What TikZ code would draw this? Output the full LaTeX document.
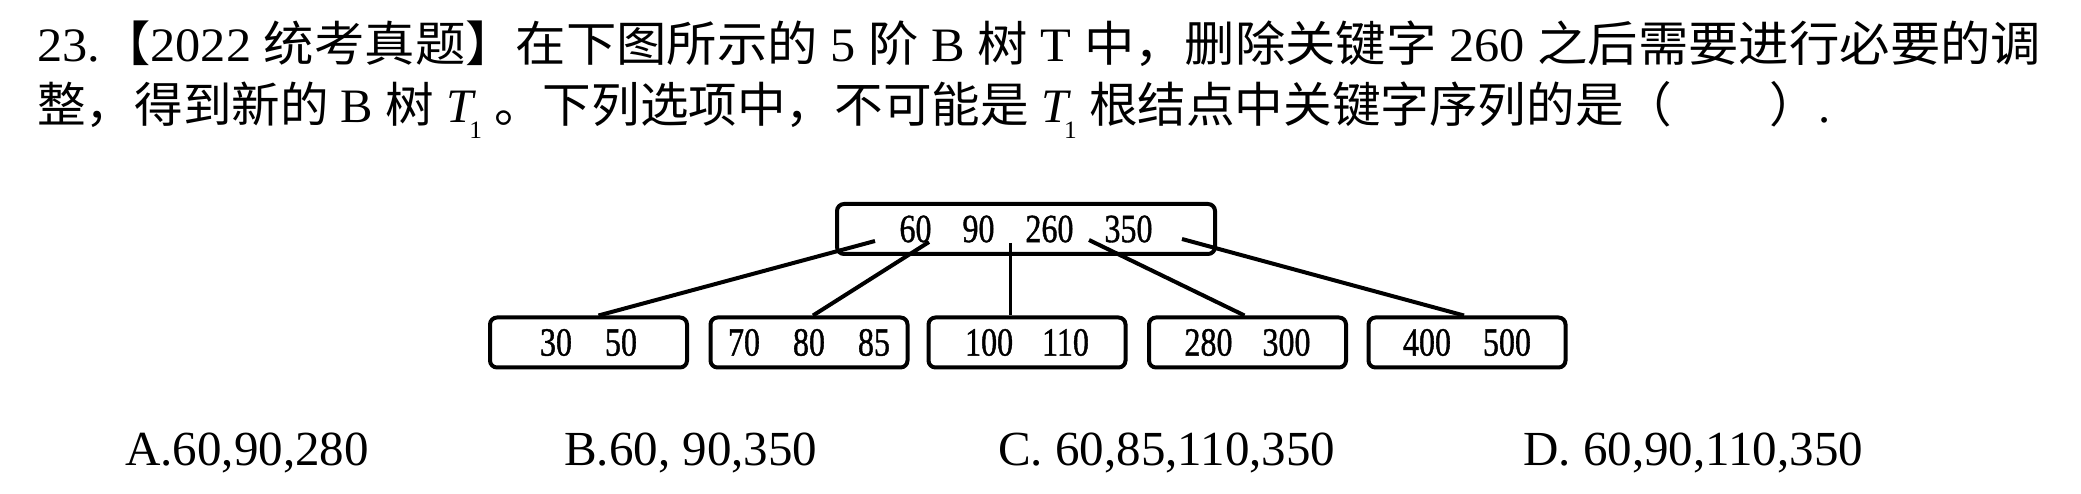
\documentclass[tikz,border=0pt]{standalone}
\usepackage{fontspec}
\usepackage{graphicx}
\setmainfont{Liberation Serif}
\newfontfamily\cjk{Noto Sans CJK SC}
\newfontfamily\treefont[FakeStretch=0.8,FakeBold=1]{Liberation Serif}
\newcommand{\zh}[1]{{\cjk #1}}
\newcommand{\Tone}{{\itshape T}\kern-0.08em\raisebox{-0.32em}{\fontsize{25}{25}\selectfont 1}}
\begin{document}
\begin{tikzpicture}[x=1pt,y=-1pt,
  keybox/.style={draw, line width=4pt, rounded corners=7pt, minimum height=50pt,
    inner sep=0pt, font=\treefont\fontsize{40}{40}\selectfont},
  leafbox/.style={keybox, minimum width=197pt},
  link/.style={line width=4pt},
  qtext/.style={anchor=base west, inner sep=0pt, font=\fontsize{48}{48}\selectfont},
  opt/.style={anchor=base west, inner sep=0pt, font=\fontsize{49}{49}\selectfont}]
\useasboundingbox (0,0) rectangle (2081,494);

% question text
\node[qtext] (q1) at (37,62) {\resizebox{2004pt}{\height}{23.\zh{【}2022 \zh{统考真题】在下图所示的} 5 \zh{阶} B \zh{树} T \zh{中，删除关键字} 260 \zh{之后需要进行必要的调}}};
\node[qtext] (q2) at (37,123) {\resizebox{1793pt}{\height}{\zh{整，得到新的} B \zh{树} \Tone\ \zh{。下列选项中，不可能是} \Tone\ \zh{根结点中关键字序列的是（　　）}.}};

% tree
\node[keybox, minimum width=378pt] (root) at (1026,229) {60\hspace{31pt}90\hspace{31pt}260\hspace{31pt}350};
\node[leafbox] (l1) at (588.5,342.5) {30\hspace{33pt}50};
\node[leafbox] (l2) at (809,342.5) {70\hspace{33pt}80\hspace{33pt}85};
\node[leafbox] (l3) at (1027,342.5) {100\hspace{29pt}110};
\node[leafbox] (l4) at (1247.5,342.5) {280\hspace{30pt}300};
\node[leafbox] (l5) at (1467,342.5) {400\hspace{32pt}500};

\coordinate (r1) at (875,241);
\coordinate (r2) at (929,242);
\coordinate (r3) at (1010,243);
\coordinate (r4) at (1089,240);
\coordinate (r5) at (1182,239);

\draw[link] (r1) -- ([xshift=10pt]l1.north);
\draw[link] (r2) -- ([xshift=4pt]l2.north);
\draw[link, line width=3pt] (r3) -- ([xshift=-17pt]l3.north);
\draw[link] (r4) -- ([xshift=-3pt]l4.north);
\draw[link] (r5) -- ([xshift=-3pt]l5.north);

% options
\node[opt] (oa) at (125,465) {A.60,90,280};
\node[opt] (ob) at (564,465) {B.60, 90,350};
\node[opt] (oc) at (998,465) {C. 60,85,110,350};
\node[opt] (od) at (1523,465) {D. 60,90,110,350};
\end{tikzpicture}
\end{document}
